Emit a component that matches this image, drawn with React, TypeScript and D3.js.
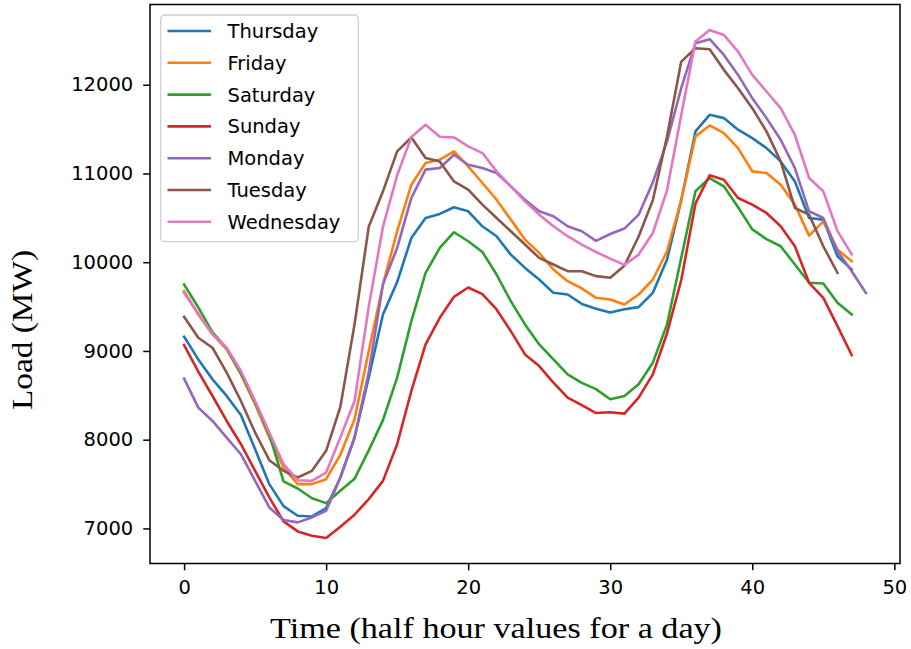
import React, { useEffect, useRef } from "react";
import * as d3 from "d3";

// half-hourly load per weekday (MW)
const DAYS = ["Thursday", "Friday", "Saturday", "Sunday", "Monday", "Tuesday", "Wednesday"];
const COLORS = ["#1f77b4", "#ff7f0e", "#2ca02c", "#d62728", "#9467bd", "#8c564b", "#e377c2"];

const thursday = [9160, 8905, 8680, 8493, 8279, 7893, 7499, 7251, 7143, 7135, 7229, 7574, 8024, 8700, 9411, 9776, 10274, 10499, 10544, 10619, 10574, 10405, 10293, 10086, 9936, 9805, 9655, 9636, 9530, 9475, 9434, 9470, 9494, 9655, 10030, 10700, 11474, 11661, 11624, 11493, 11399, 11286, 11136, 10911, 10499, 10480, 10068, 9918];
const friday = [9674, 9411, 9186, 9018, 8736, 8399, 8024, 7686, 7499, 7499, 7555, 7830, 8230, 9000, 9750, 10350, 10874, 11118, 11155, 11249, 11080, 10893, 10705, 10480, 10255, 10105, 9918, 9786, 9705, 9599, 9580, 9524, 9636, 9805, 10124, 10700, 11418, 11541, 11455, 11286, 11024, 11005, 10874, 10649, 10300, 10461, 10143, 10011];
const saturday = [9749, 9490, 9210, 9030, 8750, 8420, 8060, 7530, 7450, 7340, 7285, 7424, 7560, 7880, 8220, 8699, 9336, 9880, 10161, 10338, 10236, 10116, 9861, 9561, 9299, 9074, 8905, 8736, 8640, 8570, 8455, 8493, 8624, 8868, 9300, 10050, 10800, 10949, 10855, 10620, 10370, 10260, 10180, 9974, 9768, 9760, 9543, 9411];
const sunday = [9066, 8766, 8492, 8211, 7949, 7649, 7349, 7079, 6966, 6918, 6891, 7020, 7155, 7330, 7536, 7949, 8549, 9074, 9374, 9610, 9715, 9640, 9468, 9224, 8961, 8830, 8643, 8474, 8390, 8300, 8310, 8294, 8474, 8736, 9200, 9800, 10660, 10980, 10930, 10724, 10649, 10555, 10405, 10180, 9768, 9599, 9280, 8954];
const monday = [8688, 8361, 8211, 8024, 7836, 7536, 7236, 7094, 7068, 7124, 7199, 7574, 8024, 8760, 9750, 10161, 10724, 11043, 11061, 11211, 11099, 11061, 11005, 10855, 10705, 10574, 10518, 10405, 10349, 10240, 10318, 10379, 10536, 10900, 11361, 11961, 12468, 12513, 12336, 12111, 11849, 11624, 11380, 11061, 10574, 10499, 10124, 9899, 9655];
const tuesday = [9385, 9149, 9036, 8755, 8436, 8080, 7769, 7649, 7574, 7649, 7874, 8370, 9300, 10400, 10799, 11249, 11406, 11174, 11136, 10911, 10818, 10649, 10499, 10349, 10199, 10049, 9974, 9899, 9899, 9843, 9824, 9960, 10290, 10700, 11420, 12261, 12411, 12400, 12168, 11961, 11736, 11474, 11136, 10611, 10536, 10180, 9880];
const wednesday = [9655, 9420, 9190, 9036, 8774, 8436, 8080, 7724, 7543, 7536, 7630, 8024, 8436, 9500, 10400, 10980, 11410, 11549, 11414, 11406, 11305, 11230, 11024, 10855, 10686, 10536, 10405, 10293, 10199, 10115, 10040, 9970, 10086, 10330, 10810, 11660, 12486, 12618, 12561, 12374, 12111, 11924, 11736, 11436, 10949, 10799, 10350, 10090];

const SERIES = [thursday, friday, saturday, sunday, monday, tuesday, wednesday];
const X_TICKS = [0, 10, 20, 30, 40, 50];
const Y_TICKS = [7000, 8000, 9000, 10000, 11000, 12000];

const W = 911,
  H = 649;
const plot = { left: 150, right: 900, top: 4.5, bottom: 563.5 };
const TICK_FONT = "'DejaVu Sans', sans-serif";
const LABEL_FONT = "'Liberation Serif', 'DejaVu Serif', serif";

export default function App() {
  const ref = useRef<SVGSVGElement>(null);

  useEffect(() => {
    const svg = d3.select(ref.current);
    svg.selectAll("*").remove();

    // matplotlib-like 5% margins
    const all = SERIES.flat();
    const lo = d3.min(all) as number,
      hi = d3.max(all) as number;
    const yPad = (hi - lo) * 0.05;
    const xMax = (d3.max(SERIES, s => s.length) as number) - 1;

    const x = d3
      .scaleLinear()
      .domain([-xMax * 0.05, xMax * 1.05])
      .range([plot.left, plot.right]);
    const y = d3
      .scaleLinear()
      .domain([lo - yPad, hi + yPad])
      .range([plot.bottom, plot.top]);

    svg.append("rect").attr("width", W).attr("height", H).attr("fill", "#fff");

    const line = d3
      .line<number>()
      .x((_, i) => x(i))
      .y(d => y(d));

    svg
      .append("g")
      .selectAll("path")
      .data(SERIES)
      .enter()
      .append("path")
      .attr("d", d => line(d))
      .attr("fill", "none")
      .attr("stroke", (_, i) => COLORS[i])
      .attr("stroke-width", 2.6)
      .attr("stroke-linejoin", "round")
      .attr("stroke-linecap", "square");

    // x axis
    const gx = svg
      .append("g")
      .attr("transform", `translate(0, ${plot.bottom})`)
      .call(d3.axisBottom(x).tickValues(X_TICKS).tickSize(6.8).tickSizeOuter(0).tickPadding(10));
    gx.select(".domain").remove();
    gx.selectAll("line").attr("stroke", "#000").attr("stroke-width", 1.5);
    gx.selectAll("text")
      .attr("fill", "#000")
      .style("font-family", TICK_FONT)
      .style("font-size", "19.5px");

    // y axis
    const gy = svg
      .append("g")
      .attr("transform", `translate(${plot.left}, 0)`)
      .call(d3.axisLeft(y).tickValues(Y_TICKS).tickFormat(d3.format("d")).tickSize(6.8).tickSizeOuter(0).tickPadding(10));
    gy.select(".domain").remove();
    gy.selectAll("line").attr("stroke", "#000").attr("stroke-width", 1.5);
    gy.selectAll("text")
      .attr("fill", "#000")
      .style("font-family", TICK_FONT)
      .style("font-size", "19.5px");

    // frame
    svg
      .append("rect")
      .attr("x", plot.left)
      .attr("y", plot.top)
      .attr("width", plot.right - plot.left)
      .attr("height", plot.bottom - plot.top)
      .attr("fill", "none")
      .attr("stroke", "#000")
      .attr("stroke-width", 1.5);

    // axis labels
    svg
      .append("text")
      .attr("x", 496)
      .attr("y", 638)
      .attr("text-anchor", "middle")
      .attr("textLength", 452)
      .attr("lengthAdjust", "spacingAndGlyphs")
      .style("font-family", LABEL_FONT)
      .style("font-size", "30px")
      .attr("fill", "#000")
      .text("Time (half hour values for a day)");

    svg
      .append("text")
      .attr("transform", `translate(32, 330) rotate(-90)`)
      .attr("text-anchor", "middle")
      .attr("textLength", 160)
      .attr("lengthAdjust", "spacingAndGlyphs")
      .style("font-family", LABEL_FONT)
      .style("font-size", "30px")
      .attr("fill", "#000")
      .text("Load (MW)");

    // legend
    const lg = svg.append("g");
    lg.append("rect")
      .attr("x", 160.7)
      .attr("y", 15)
      .attr("width", 197.6)
      .attr("height", 226.7)
      .attr("rx", 4)
      .attr("fill", "#fff")
      .attr("fill-opacity", 0.8)
      .attr("stroke", "#d0d0d0")
      .attr("stroke-width", 1.3);

    const rows = lg
      .selectAll("g.row")
      .data(DAYS)
      .enter()
      .append("g")
      .attr("class", "row")
      .attr("transform", (_, i) => `translate(0, ${31 + i * 31.8})`);
    rows
      .append("line")
      .attr("x1", 167.5)
      .attr("x2", 211)
      .attr("stroke", (_, i) => COLORS[i])
      .attr("stroke-width", 2.6);
    rows
      .append("text")
      .attr("x", 227.5)
      .attr("dy", "0.36em")
      .attr("fill", "#000")
      .style("font-family", TICK_FONT)
      .style("font-size", "19.5px")
      .text(d => d);
  }, []);

  return (
    <svg
      ref={ref}
      width={W}
      height={H}
      style={{ position: "absolute", left: 0, top: 0, display: "block" }}
    />
  );
}
